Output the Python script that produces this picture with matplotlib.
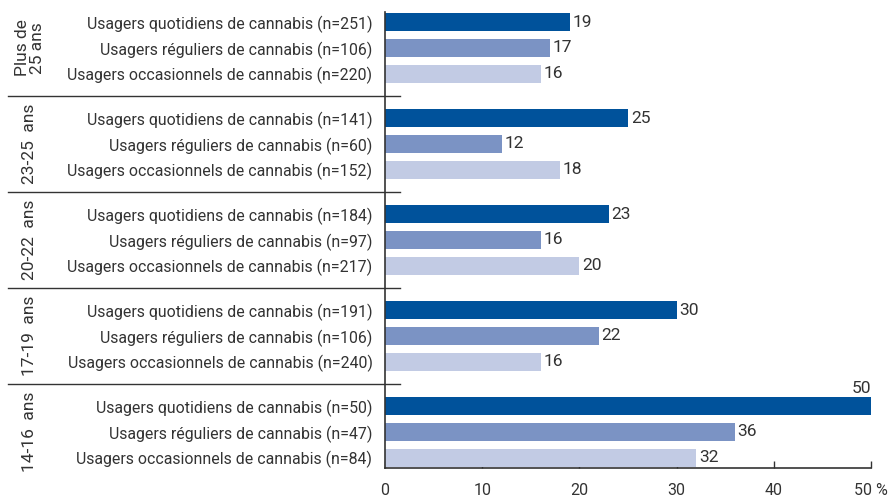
import matplotlib
matplotlib.use("Agg")
import matplotlib.pyplot as plt
from matplotlib.transforms import blended_transform_factory

plt.rcParams['font.family'] = ['Roboto', 'DejaVu Sans']

groups = ["Plus de\n25 ans", "23-25  ans", "20-22  ans", "17-19  ans", "14-16  ans"]
series = ["Usagers quotidiens de cannabis", "Usagers réguliers de cannabis",
          "Usagers occasionnels de cannabis"]
counts = [
    [251, 106, 220],
    [141, 60, 152],
    [184, 97, 217],
    [191, 106, 240],
    [50, 47, 84],
]
values = [
    [19, 17, 16],
    [25, 12, 18],
    [23, 16, 20],
    [30, 22, 16],
    [50, 36, 32],
]
colors = ["#00529b", "#7b93c4", "#c2cbe4"]
xticks = [0, 10, 20, 30, 40, 50]
xticklabels = ["0", "10", "20", "30", "40", "50 %"]

W, H = 892, 498
fig = plt.figure(figsize=(W / 100, H / 100), dpi=100)
ax = fig.add_axes([385 / W, 30 / H, (871 - 385) / W, 456 / H])

group_h = 3.75
bar_step = 1.0
bar_h = 0.7
text_col = "#333333"
fs_cat = 11.4
fs_val = 12.5
fs_grp = 12.5
fs_tick = 11.5

yticks, ylabels = [], []
for g, grp in enumerate(groups):
    center = (g + 0.5) * group_h
    for i, s in enumerate(series):
        y = center + (i - 1) * bar_step
        v = values[g][i]
        ax.barh(y, v, height=bar_h, color=colors[i], zorder=2)
        yticks.append(y)
        ylabels.append(f"{s} (n={counts[g][i]})")
        if v >= 50:
            ax.annotate(str(v), (v, y - bar_h / 2), xytext=(0, 1),
                        textcoords="offset points", ha="right", va="bottom",
                        fontsize=fs_val, color=text_col, annotation_clip=False)
        else:
            ax.annotate(str(v), (v, y), xytext=(2, 0),
                        textcoords="offset points", ha="left", va="center",
                        fontsize=fs_val, color=text_col)
    # group label, rotated
    ax.text(30 / W, center, grp, rotation=90, ha="center", va="center",
            fontsize=fs_grp, color=text_col, linespacing=0.95,
            transform=blended_transform_factory(fig.transFigure, ax.transData))

# separators between groups
tr = blended_transform_factory(fig.transFigure, ax.transData)
for g in range(1, len(groups)):
    ax.plot([8 / W, 400 / W], [g * group_h, g * group_h], color=text_col,
            lw=1.0, transform=tr, clip_on=False)

ax.set_xlim(0, 50)
ax.set_ylim(468 / 25.6, 12 / 25.6)
ax.set_yticks(yticks)
ax.set_yticklabels(ylabels, fontsize=fs_cat, color=text_col)
ax.tick_params(axis="y", length=0, pad=9)
ax.set_xticks(xticks)
ax.set_xticklabels(xticklabels, fontsize=fs_tick, color=text_col)
ax.tick_params(axis="x", direction="in", length=5, width=1.0, color=text_col, pad=11)

for side in ["top", "right"]:
    ax.spines[side].set_visible(False)
for side in ["left", "bottom"]:
    ax.spines[side].set_color(text_col)
    ax.spines[side].set_linewidth(1.2)

fig.savefig("out.png", dpi=100)
